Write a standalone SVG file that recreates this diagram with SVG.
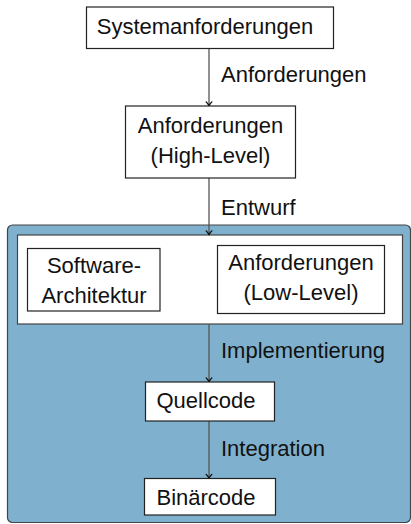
<svg xmlns="http://www.w3.org/2000/svg" width="411" height="524" viewBox="0 0 411 524">
<defs>
<style>
.box{fill:#ffffff;stroke:#222222;stroke-width:1.2}
.t{font-family:"Liberation Sans",Arial,sans-serif;font-size:22px;fill:#111111}
.c{text-anchor:middle}
.edge{stroke:#555555;stroke-width:1.3;fill:none;marker-end:url(#arr)}
</style>
<marker id="arr" viewBox="-5 -4 6 8" refX="0" refY="0" markerWidth="6" markerHeight="8" markerUnits="userSpaceOnUse" orient="auto">
<path d="M-3.6,-2.8 Q-1.2,-0.6 0.2,0 Q-1.2,0.6 -3.6,2.8" fill="none" stroke="#111111" stroke-width="1.4" stroke-linecap="round" stroke-linejoin="round"/>
</marker>
</defs>
<g id="group-container">
<rect x="7.5" y="225" width="403" height="297.5" rx="5" ry="5" fill="#7fb1cf" stroke="#444444" stroke-width="1.2"/>
<rect x="17.5" y="235" width="385" height="89" fill="#ffffff" stroke="#444444" stroke-width="1.2"/>
</g>
<g id="connectors">
<line class="edge" x1="209" y1="48.5" x2="209" y2="105.5"/>
<line class="edge" x1="209" y1="178" x2="209" y2="234.5"/>
<line class="edge" x1="209" y1="324" x2="209" y2="381.5"/>
<line class="edge" x1="209" y1="421" x2="209" y2="478"/>
<text class="t" x="221" y="82">Anforderungen</text>
<text class="t" x="221" y="215">Entwurf</text>
<text class="t" x="221" y="358">Implementierung</text>
<text class="t" x="221" y="456">Integration</text>
</g>
<g id="node-systemanforderungen">
<rect class="box" x="86.5" y="7" width="247" height="41.5"/>
<text class="t c" x="205" y="34">Systemanforderungen</text>
</g>
<g id="node-highlevel">
<rect class="box" x="125.5" y="106" width="170" height="72"/>
<text class="t c" x="210.5" y="133">Anforderungen</text>
<text class="t c" x="210.5" y="163">(High-Level)</text>
</g>
<g id="node-architektur">
<rect class="box" x="27.5" y="248.5" width="132.5" height="62.5"/>
<text class="t c" x="94" y="273">Software-</text>
<text class="t c" x="94" y="303">Architektur</text>
</g>
<g id="node-lowlevel">
<rect class="box" x="217.5" y="245.5" width="167" height="68"/>
<text class="t c" x="301" y="270">Anforderungen</text>
<text class="t c" x="301" y="300">(Low-Level)</text>
</g>
<g id="node-quellcode">
<rect class="box" x="145.5" y="382" width="129" height="39"/>
<text class="t c" x="206" y="408">Quellcode</text>
</g>
<g id="node-binaercode">
<rect class="box" x="144.5" y="478.5" width="131" height="36.5"/>
<text class="t c" x="206" y="505">Binärcode</text>
</g>
</svg>
